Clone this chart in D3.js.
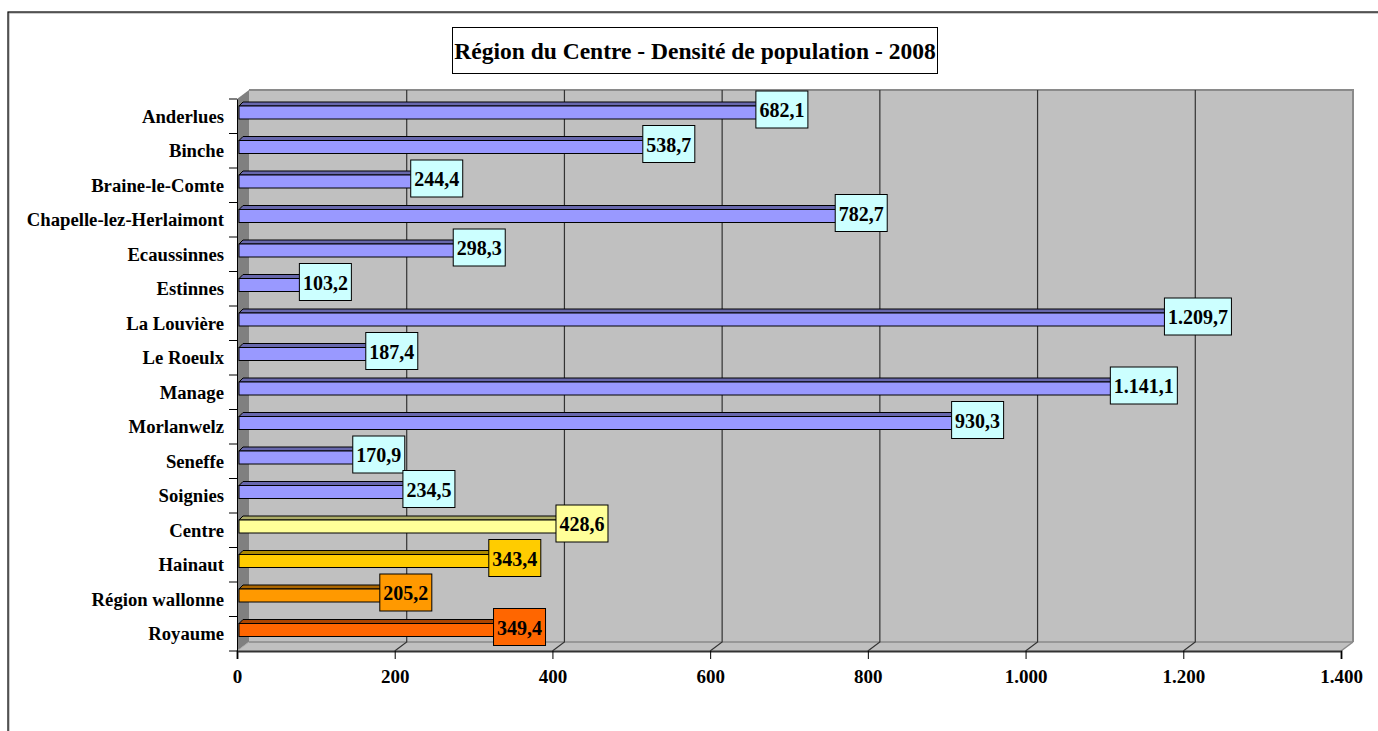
<!DOCTYPE html>
<html>
<head>
<meta charset="utf-8">
<script src="https://cdn.jsdelivr.net/npm/d3@7"></script>
<style>
  body { margin: 0; background: #fff; }
  text { font-family: "Liberation Serif", "Times New Roman", serif; font-weight: bold; }
</style>
</head>
<body>
<div id="vis"></div>
<script>
// chart data
const categories = ['Anderlues', 'Binche', 'Braine-le-Comte', 'Chapelle-lez-Herlaimont', 'Ecaussinnes',
  'Estinnes', 'La Louvière', 'Le Roeulx', 'Manage', 'Morlanwelz', 'Seneffe', 'Soignies',
  'Centre', 'Hainaut', 'Région wallonne', 'Royaume']
const values = [682.1, 538.7, 244.4, 782.7, 298.3, 103.2, 1209.7, 187.4, 1141.1, 930.3, 170.9, 234.5,
  428.6, 343.4, 205.2, 349.4]
const barColors = ['#9999FF', '#9999FF', '#9999FF', '#9999FF', '#9999FF', '#9999FF', '#9999FF', '#9999FF',
  '#9999FF', '#9999FF', '#9999FF', '#9999FF', '#FFFF99', '#FFCC00', '#FF9900', '#FF6600']
const labelColors = ['#CCFFFF', '#CCFFFF', '#CCFFFF', '#CCFFFF', '#CCFFFF', '#CCFFFF', '#CCFFFF', '#CCFFFF',
  '#CCFFFF', '#CCFFFF', '#CCFFFF', '#CCFFFF', '#FFFF99', '#FFCC00', '#FF9900', '#FF6600']
const xTicks = [0, 200, 400, 600, 800, 1000, 1200, 1400]
const title = 'Région du Centre - Densité de population - 2008'

const W = 1378, H = 731
const locale = d3.formatLocale({ decimal: ',', thousands: '.', grouping: [3], currency: ['', '€'] })
const fmtVal = locale.format(',.1f')
const fmtTick = locale.format(',d')

// front plane of the 3d box
const pLeft = 237, pRight = 1341, pTop = 99, pBottom = 651
const dx = 12, dy = -9 // depth of the walls

const x = d3.scaleLinear().domain([0, 1400]).range([pLeft, pRight])
const y = d3.scaleBand().domain(categories).range([pTop, pBottom]).padding(0)

const svg = d3.select('#vis').append('svg').attr('width', W).attr('height', H)

// outer frame (runs past the window on right and bottom)
svg.append('rect').attr('x', 9).attr('y', 13).attr('width', W + 20).attr('height', H + 20)
  .attr('fill', 'none').attr('stroke', '#999').attr('stroke-width', 1)
svg.append('rect').attr('x', 8).attr('y', 12).attr('width', W + 20).attr('height', H + 20)
  .attr('fill', 'none').attr('stroke', '#000').attr('stroke-width', 1.2)

// title box
const tg = svg.append('g')
tg.append('rect').attr('x', 452.5).attr('y', 27.5).attr('width', 485).attr('height', 46)
  .attr('fill', '#fff').attr('stroke', '#000').attr('stroke-width', 1)
tg.append('text').attr('x', 695).attr('y', 59).attr('text-anchor', 'middle')
  .style('font-size', '23.5px').text(title)

// back wall
svg.append('rect').attr('x', pLeft + dx).attr('y', pTop + dy).attr('width', pRight - pLeft)
  .attr('height', pBottom - pTop).attr('fill', '#C0C0C0')
svg.append('path')
  .attr('d', `M${pLeft + dx},${pTop + dy}H${pRight + dx}V${pBottom + dy}`)
  .attr('fill', 'none').attr('stroke', '#8a8a8a').attr('stroke-width', 2)

// side wall
svg.append('path')
  .attr('d', `M${pLeft},${pTop}L${pLeft + dx},${pTop + dy}V${pBottom + dy}L${pLeft},${pBottom}Z`)
  .attr('fill', '#808080')

// floor
svg.append('path')
  .attr('d', `M${pLeft},${pBottom}H${pRight}L${pRight + dx},${pBottom + dy}H${pLeft + dx}Z`)
  .attr('fill', '#C0C0C0')
svg.append('line').attr('x1', pLeft + dx).attr('x2', pRight + dx).attr('y1', pBottom + dy).attr('y2', pBottom + dy)
  .attr('stroke', '#8a8a8a').attr('stroke-width', 1.5)
svg.append('line').attr('x1', pRight).attr('x2', pRight + dx).attr('y1', pBottom).attr('y2', pBottom + dy)
  .attr('stroke', '#8a8a8a').attr('stroke-width', 1.5)
svg.append('line').attr('x1', pLeft).attr('x2', pLeft + dx).attr('y1', pBottom).attr('y2', pBottom + dy)
  .attr('stroke', '#aaa').attr('stroke-width', 1)

// gridlines on back wall and floor
svg.append('g').selectAll('path').data(xTicks.slice(1, -1)).enter().append('path')
  .attr('d', d => `M${x(d)},${pBottom}L${x(d) + dx},${pBottom + dy}V${pTop + dy}`)
  .attr('fill', 'none').attr('stroke', '#333').attr('stroke-width', 1.2)

// x axis
const xAxis = svg.append('g').attr('transform', `translate(0,${pBottom})`)
  .call(d3.axisBottom(x).tickValues(xTicks).tickFormat(fmtTick).tickSize(8).tickPadding(11))
xAxis.select('.domain').attr('stroke', '#333').attr('stroke-width', 2)
xAxis.selectAll('.tick line').attr('stroke', '#000')
xAxis.selectAll('text').style('font-size', '19px').attr('fill', '#000')
  .style('font-family', '"Liberation Serif", serif').style('font-weight', 'bold')

// category axis
const yAxis = svg.append('g').attr('transform', `translate(${pLeft},0)`)
  .call(d3.axisLeft(y).tickSize(0).tickPadding(13))
yAxis.select('.domain').attr('stroke', '#000').attr('stroke-width', 1)
yAxis.selectAll('text').style('font-size', '18.7px').attr('fill', '#000').attr('dy', '0.36em')
  .style('font-family', '"Liberation Serif", serif').style('font-weight', 'bold')
svg.append('g').selectAll('line').data(d3.range(categories.length + 1)).enter().append('line')
  .attr('x1', pLeft - 8).attr('x2', pLeft)
  .attr('y1', i => pTop + i * y.step()).attr('y2', i => pTop + i * y.step())
  .attr('stroke', '#000').attr('stroke-width', 1)

// bars (front face + top face)
const bd = 4 // bar depth
const bars = svg.append('g').selectAll('g').data(values).enter().append('g')
bars.append('path')
  .attr('d', (d, i) => {
    const y0 = y(categories[i]) + 7
    const x0 = x(0) + 2, x1 = x(d) + 3
    return `M${x0},${y0}L${x0 + bd},${y0 - bd}H${x1 + bd}L${x1},${y0}Z`
  })
  .attr('fill', (d, i) => d3.color(barColors[i]).darker(1.1))
  .attr('stroke', '#000').attr('stroke-width', 1)
bars.append('rect')
  .attr('x', x(0) + 2)
  .attr('y', (d, i) => y(categories[i]) + 7)
  .attr('width', d => x(d) + 1 - x(0))
  .attr('height', 13)
  .attr('fill', (d, i) => barColors[i])
  .attr('stroke', '#000').attr('stroke-width', 1)

// data labels
const labels = svg.append('g').selectAll('g').data(values).enter().append('g')
  .attr('transform', (d, i) => `translate(${x(d) + 7},${y(categories[i]) + 11})`)
labels.append('rect').attr('class', 'box')
  .attr('fill', (d, i) => labelColors[i]).attr('stroke', '#000').attr('stroke-width', 1)
labels.append('text').attr('text-anchor', 'middle').attr('y', 7)
  .style('font-size', '20px').text(d => fmtVal(d))
labels.each(function () {
  const g = d3.select(this)
  const tw = g.select('text').node().getComputedTextLength()
  const bw = Math.round(tw + 7)
  g.select('rect').attr('x', -bw / 2).attr('y', -19).attr('width', bw).attr('height', 37)
})
</script>
</body>
</html>
